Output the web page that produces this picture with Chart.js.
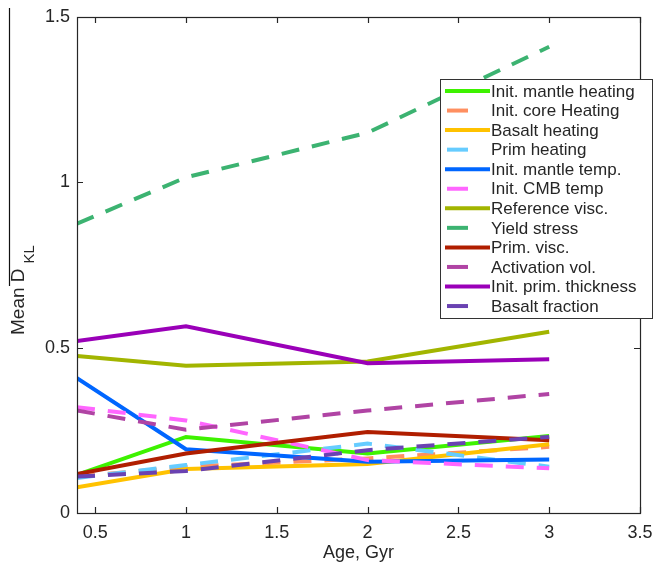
<!DOCTYPE html>
<html lang="en">
<head>
<meta charset="UTF-8">
<title>Mean DKL vs Age</title>
<style>body{margin:0;background:#fff}</style>
</head>
<body>
<canvas id="chartJSContainer" width="655" height="566"></canvas>
<script src="https://cdn.jsdelivr.net/npm/chart.js@4.4.0/dist/chart.umd.min.js"></script>
<script>
// ages (Gyr) at which every run was sampled
var ages = [0.4, 1, 2, 3];
var xTicks = [0.5, 1, 1.5, 2, 2.5, 3, 3.5];
var yTicks = [0, 0.5, 1, 1.5];

var seriesNames = ['Init. mantle heating', 'Init. core Heating', 'Basalt heating', 'Prim heating',
  'Init. mantle temp.', 'Init. CMB temp', 'Reference visc.', 'Yield stress', 'Prim. visc.',
  'Activation vol.', 'Init. prim. thickness', 'Basalt fraction'];

var mantleHeating  = [0.115, 0.23, 0.18, 0.233];
var coreHeating    = [0.11, 0.14, 0.165, 0.2];
var basaltHeating  = [0.078, 0.133, 0.148, 0.208];
var primHeating    = [0.106, 0.145, 0.21, 0.14];
var mantleTemp     = [0.408, 0.193, 0.155, 0.162];
var cmbTemp        = [0.32, 0.28, 0.16, 0.135];
var refVisc        = [0.475, 0.445, 0.458, 0.548];
var yieldStress    = [0.875, 1.015, 1.15, 1.41];
var primVisc       = [0.118, 0.18, 0.245, 0.22];
var activationVol  = [0.31, 0.252, 0.31, 0.36];
var primThickness  = [0.52, 0.565, 0.453, 0.465];
var basaltFraction = [0.11, 0.127, 0.19, 0.23];

var seriesValues = [mantleHeating, coreHeating, basaltHeating, primHeating, mantleTemp, cmbTemp,
  refVisc, yieldStress, primVisc, activationVol, primThickness, basaltFraction];
var seriesColors = ['#3ef200', '#ff8f60', '#ffc200', '#66ccff', '#0066ff', '#ff66ff',
  '#a2b500', '#3cb371', '#b01e00', '#b044a4', '#9a00b8', '#6a42b2'];
var seriesDashed = [false, true, false, true, false, true, false, true, false, true, false, true];

var DASH = [18, 13];
var INK = '#262626';
var FONT = '"Liberation Sans", Arial, Helvetica, sans-serif';

var datasets = seriesNames.map(function (name, i) {
  return {
    label: name,
    data: ages.map(function (a, j) { return { x: a, y: seriesValues[i][j] }; }),
    borderColor: seriesColors[i],
    backgroundColor: seriesColors[i],
    borderWidth: 4,
    borderDash: seriesDashed[i] ? DASH : [],
    borderCapStyle: 'butt',
    borderJoinStyle: 'miter',
    pointRadius: 0,
    tension: 0,
    fill: false,
    order: seriesNames.length - i
  };
});

// box, inward ticks, axis titles and the legend, matlab style
var matlabFrame = {
  id: 'matlabFrame',
  afterDatasetsDraw: function (chart) {
    var ctx = chart.ctx, a = chart.chartArea;
    var xs = chart.scales.x, ys = chart.scales.y;
    ctx.save();
    ctx.strokeStyle = INK;
    ctx.lineWidth = 1.2;
    ctx.strokeRect(a.left + 0.5, a.top + 0.5, a.right - a.left, a.bottom - a.top);
    ctx.beginPath();
    xTicks.forEach(function (v) {
      var px = Math.round(xs.getPixelForValue(v)) + 0.5;
      ctx.moveTo(px, a.bottom); ctx.lineTo(px, a.bottom - 6);
      ctx.moveTo(px, a.top); ctx.lineTo(px, a.top + 6);
    });
    yTicks.forEach(function (v) {
      var py = Math.round(ys.getPixelForValue(v)) + 0.5;
      ctx.moveTo(a.left, py); ctx.lineTo(a.left + 6, py);
      ctx.moveTo(a.right, py); ctx.lineTo(a.right - 6, py);
    });
    ctx.stroke();
    ctx.restore();
  },
  afterDraw: function (chart) {
    var ctx = chart.ctx, a = chart.chartArea;
    ctx.save();
    ctx.fillStyle = INK;

    // x title
    ctx.font = '18px ' + FONT;
    ctx.textAlign = 'center';
    ctx.textBaseline = 'middle';
    ctx.fillText('Age, Gyr', (a.left + a.right) / 2, 553);

    // y title with subscript
    ctx.save();
    ctx.translate(24, 335);
    ctx.rotate(-Math.PI / 2);
    ctx.textAlign = 'left';
    ctx.textBaseline = 'alphabetic';
    ctx.font = '19px ' + FONT;
    ctx.fillText('Mean D', 0, 0);
    var w = ctx.measureText('Mean D').width;
    ctx.font = '15px ' + FONT;
    ctx.fillText('KL', w + 5, 10);
    ctx.restore();

    ctx.strokeStyle = '#111';
    ctx.lineWidth = 1.2;
    ctx.beginPath();
    ctx.moveTo(9.5, 8); ctx.lineTo(9.5, 286);
    ctx.stroke();

    // legend
    var lx = 440, ly = 79, lw = 212, lh = 239, row = 19.55;
    ctx.fillStyle = '#fff';
    ctx.fillRect(lx, ly, lw, lh);
    ctx.strokeStyle = '#333';
    ctx.lineWidth = 1;
    ctx.strokeRect(lx + 0.5, ly + 0.5, lw, lh);
    ctx.font = '17px ' + FONT;
    ctx.textAlign = 'left';
    ctx.textBaseline = 'middle';
    seriesNames.forEach(function (name, i) {
      var cy = ly + 12 + i * row;
      ctx.strokeStyle = seriesColors[i];
      ctx.lineWidth = 4;
      ctx.beginPath();
      if (seriesDashed[i]) { ctx.moveTo(447, cy); ctx.lineTo(468, cy); }
      else { ctx.moveTo(445, cy); ctx.lineTo(490, cy); }
      ctx.stroke();
      ctx.fillStyle = INK;
      ctx.fillText(name, 491, cy + 1);
    });
    ctx.restore();
  }
};

var tickFont = { family: FONT, size: 18 };
var plainNumber = function (v) { return String(v); };

var options = {
  type: 'line',
  data: { datasets: datasets },
  options: {
    responsive: false,
    animation: false,
    layout: { padding: { top: 17, right: 15, left: 0, bottom: 0 } },
    plugins: { legend: { display: false }, tooltip: { enabled: false } },
    scales: {
      x: {
        type: 'linear',
        min: 0.4,
        max: 3.5,
        grid: { display: false, drawTicks: false },
        border: { display: false },
        ticks: { color: INK, font: tickFont, padding: 9, maxRotation: 0, callback: plainNumber },
        afterBuildTicks: function (s) { s.ticks = xTicks.map(function (v) { return { value: v }; }); },
        afterFit: function (s) { s.height = 53; s.paddingLeft = 0; s.paddingRight = 0; }
      },
      y: {
        type: 'linear',
        min: 0,
        max: 1.5,
        grid: { display: false, drawTicks: false },
        border: { display: false },
        ticks: { color: INK, font: tickFont, padding: 7, callback: plainNumber },
        afterBuildTicks: function (s) { s.ticks = yTicks.map(function (v) { return { value: v }; }); },
        afterFit: function (s) { s.width = 77; s.paddingTop = 0; s.paddingBottom = 0; }
      }
    }
  },
  plugins: [matlabFrame]
};

var ctx = document.getElementById('chartJSContainer').getContext('2d');
new Chart(ctx, options);
</script>
</body>
</html>
